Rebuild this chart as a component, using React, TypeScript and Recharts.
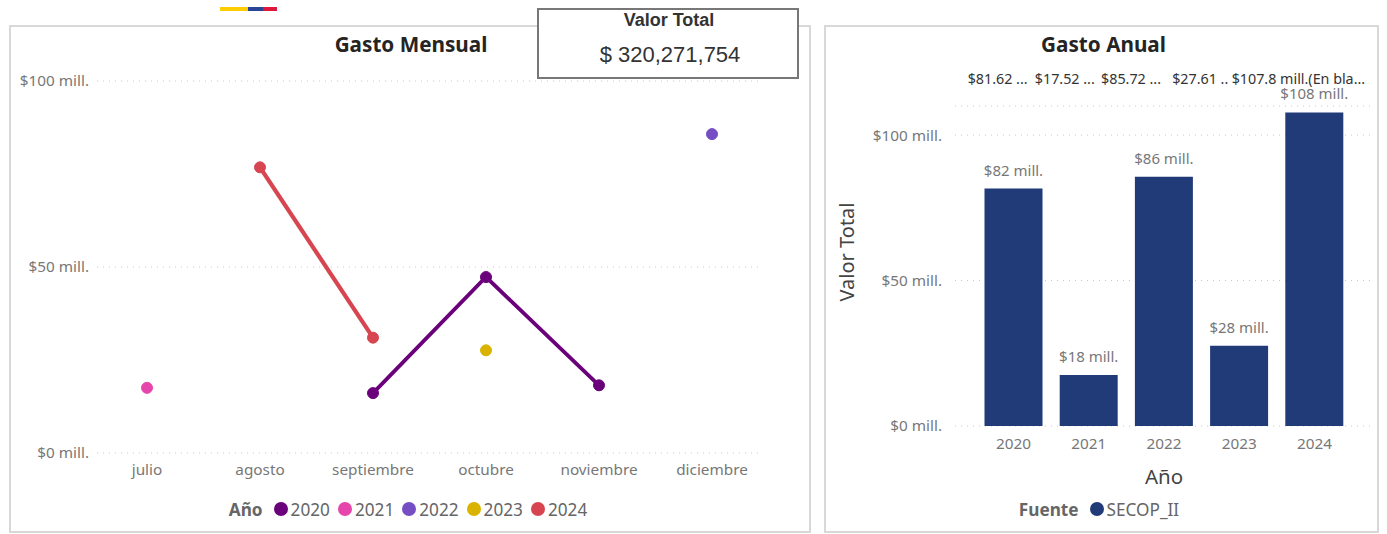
import React from "react";
import { LineChart, Line, BarChart, Bar, XAxis, YAxis, CartesianGrid, Legend, LabelList, Label } from "recharts";

const months = ["julio", "agosto", "septiembre", "octubre", "noviembre", "diciembre"];
const gasto2020 = [null, null, 16.1, 47.3, 18.2, null];
const gasto2021 = [17.52, null, null, null, null, null];
const gasto2022 = [null, null, null, null, null, 85.72];
const gasto2023 = [null, null, null, 27.61, null, null];
const gasto2024 = [null, 76.8, 31.0, null, null, null];
const endValues = [85.72, 27.61, 17.52];
const endNames = ["2022", "2023", "2021"];

const years = ["2020", "2021", "2022", "2023", "2024"];
const annual = [81.62, 17.52, 85.72, 27.61, 107.8];
const annualLabels = ["$82 mill.", "$18 mill.", "$86 mill.", "$28 mill.", "$108 mill."];
const notes = ["$81.62 ...", "$17.52 ...", "$85.72 ...", "$27.61 ..", "$107.8 mill.(En bla..."];
const noteShift = [-16, -24, -33, -39, -16];

const monthlyRows = months.map((m, i) => ({
  m, y2020: gasto2020[i], y2021: gasto2021[i], y2022: gasto2022[i], y2023: gasto2023[i], y2024: gasto2024[i],
}));
const annualRows = years.map((y, i) => ({ y, v: annual[i], label: annualLabels[i], note: notes[i] }));

const FONT = "'Noto Sans', 'Open Sans', sans-serif";
const money = (v: number) => `$${v} mill.`;
const panel = (left: number, width: number): React.CSSProperties => ({
  position: "absolute", left, top: 26, width, height: 506, boxSizing: "border-box",
  outline: "2px solid #d8d8d8", outlineOffset: -1, background: "#fff",
});
const titleStyle = (left: number, width: number): React.CSSProperties => ({
  position: "absolute", left, width, top: 30, textAlign: "center", fontFamily: FONT, fontWeight: 700,
  fontSize: 20.7, lineHeight: "28px", color: "#252423",
});

const legendOf = (title: string, gap: number, pad: number) => ({ payload }: any) => (
  <div style={{ display: "flex", justifyContent: "center", alignItems: "center", height: 30, paddingLeft: pad, fontFamily: FONT, fontSize: 17.2, color: "#666", whiteSpace: "nowrap" }}>
    <span style={{ fontWeight: 700, marginRight: 11 }}>{title}</span>
    {(payload || []).map((p: any) => (
      <span key={p.value} style={{ display: "inline-flex", alignItems: "center", marginRight: gap }}>
        <span style={{ width: 14, height: 14, borderRadius: 7, background: p.color, marginRight: 3 }} />
        {p.value}
      </span>
    ))}
  </div>
);

const tickStyle = { fontFamily: FONT, fontSize: 15.3, fill: "#777" };

const series = [
  { key: "y2020", name: "2020", color: "#6B007B" },
  { key: "y2021", name: "2021", color: "#E645AB" },
  { key: "y2022", name: "2022", color: "#744EC2" },
  { key: "y2023", name: "2023", color: "#D9B300" },
  { key: "y2024", name: "2024", color: "#D64550" },
];

const NoteTick = ({ x, y, index, payload }: any) => (
  <text x={x + noteShift[index]} y={y - 20} textAnchor="middle" fontFamily={FONT} fontSize={14.3} fill="#333">
    {annualRows[index] ? annualRows[index].note : payload.value}
  </text>
);

const BarTopLabel = ({ x, y, width, value }: any) => (
  <text x={x + width / 2} y={y - 13} textAnchor="middle" fontFamily={FONT} fontSize={15} fill="#777">{value}</text>
);

const ValueAxisTitle = ({ viewBox }: any) => {
  const cx = viewBox.x + 21;
  const cy = viewBox.y + viewBox.height / 2 - 14;
  return (
    <text x={cx} y={cy} transform={`rotate(-90 ${cx} ${cy})`} textAnchor="middle" dominantBaseline="central" fontFamily={FONT} fontSize={20} fill="#444">
      Valor Total
    </text>
  );
};

export default function App() {
  return (
    <div style={{ position: "absolute", left: 0, top: 0, width: 1387, height: 534, background: "#fff", overflow: "hidden" }}>
      <div style={{ position: "absolute", left: 220, top: 7, width: 28, height: 4, background: "#FFCD00" }} />
      <div style={{ position: "absolute", left: 248, top: 7, width: 15, height: 4, background: "#2A4596" }} />
      <div style={{ position: "absolute", left: 263, top: 7, width: 14, height: 4, background: "#E0173D" }} />

      <div style={panel(10, 800)}>
        <LineChart width={800} height={506} data={monthlyRows} margin={{ top: 55, right: 0, bottom: 8, left: 0 }}>
          <CartesianGrid yAxisId="left" vertical={false} stroke="#c8c8c8" strokeDasharray="1 5" />
          <XAxis dataKey="m" axisLine={false} tickLine={false} tickMargin={5} height={41} padding={{ left: 50, right: 46 }} tick={tickStyle} interval={0} />
          <YAxis yAxisId="left" width={87} domain={[0, 100]} ticks={[0, 50, 100]} tickFormatter={money} axisLine={false} tickLine={false} tickSize={0} tickMargin={8} tick={tickStyle} />
          <YAxis yAxisId="right" orientation="right" width={52} domain={[0, 100]} ticks={endValues} interval={0}
            tickFormatter={(v: number) => endNames[endValues.indexOf(v)]} axisLine={false} tickLine={false} tickSize={0} tickMargin={7} tick={{ ...tickStyle, dy: -2 }} />
          {series.map((s) => (
            <Line key={s.key} yAxisId="left" dataKey={s.key} name={s.name} stroke={s.color} strokeWidth={s.key === "y2024" ? 4.2 : 3.8}
              dot={{ r: 5.5, fill: s.color, stroke: s.color, strokeWidth: 1 }} connectNulls={false} isAnimationActive={false} />
          ))}
          <Legend height={30} verticalAlign="bottom" content={legendOf("Año", 8, 4)} />
        </LineChart>
      </div>

      <div style={titleStyle(10, 802)}>Gasto Mensual</div>

      <div style={panel(825, 553)}>
        <BarChart width={553} height={506} data={annualRows} margin={{ top: 40, right: 5, bottom: 8, left: 0 }} barCategoryGap="11.3%">
          <CartesianGrid vertical={false} stroke="#c8c8c8" strokeDasharray="1 5" />
          <XAxis xAxisId="top" orientation="top" dataKey="y" height={40} axisLine={false} tickLine={false} tickSize={0} padding={{ left: 21, right: 21 }} tick={<NoteTick />} interval={0} />
          <XAxis dataKey="y" height={68} axisLine={false} tickLine={false} tickMargin={6} padding={{ left: 21, right: 21 }} tick={tickStyle} interval={0}>
            <Label value="Año" position="insideBottom" offset={10} style={{ fontFamily: FONT, fontSize: 20.5, fill: "#444" }} />
          </XAxis>
          <YAxis width={130} domain={[0, 110]} ticks={[0, 50, 100]} tickFormatter={money} axisLine={false} tickLine={false} tickSize={0} tickMargin={13} tick={tickStyle}>
            <Label content={<ValueAxisTitle />} />
          </YAxis>
          <Bar dataKey="v" name="SECOP_II" fill="#213B78" isAnimationActive={false}>
            <LabelList dataKey="label" content={<BarTopLabel />} />
          </Bar>
          <Legend height={30} verticalAlign="bottom" content={legendOf("Fuente", 0, 0)} />
        </BarChart>
      </div>

      <div style={titleStyle(825, 557)}>Gasto Anual</div>

      <div style={{ position: "absolute", left: 537, top: 8, width: 262, height: 71, boxSizing: "border-box", border: "2px solid #777", background: "#fff", textAlign: "center", fontFamily: "'Liberation Sans', Arial, sans-serif", color: "#333" }}>
        <div style={{ position: "absolute", left: 2, right: 0, top: 1, fontSize: 18, fontWeight: 700, lineHeight: "18px" }}>Valor Total</div>
        <div style={{ position: "absolute", left: 4, right: 0, top: 31, fontSize: 22, lineHeight: "28px" }}>$ 320,271,754</div>
      </div>
    </div>
  );
}
